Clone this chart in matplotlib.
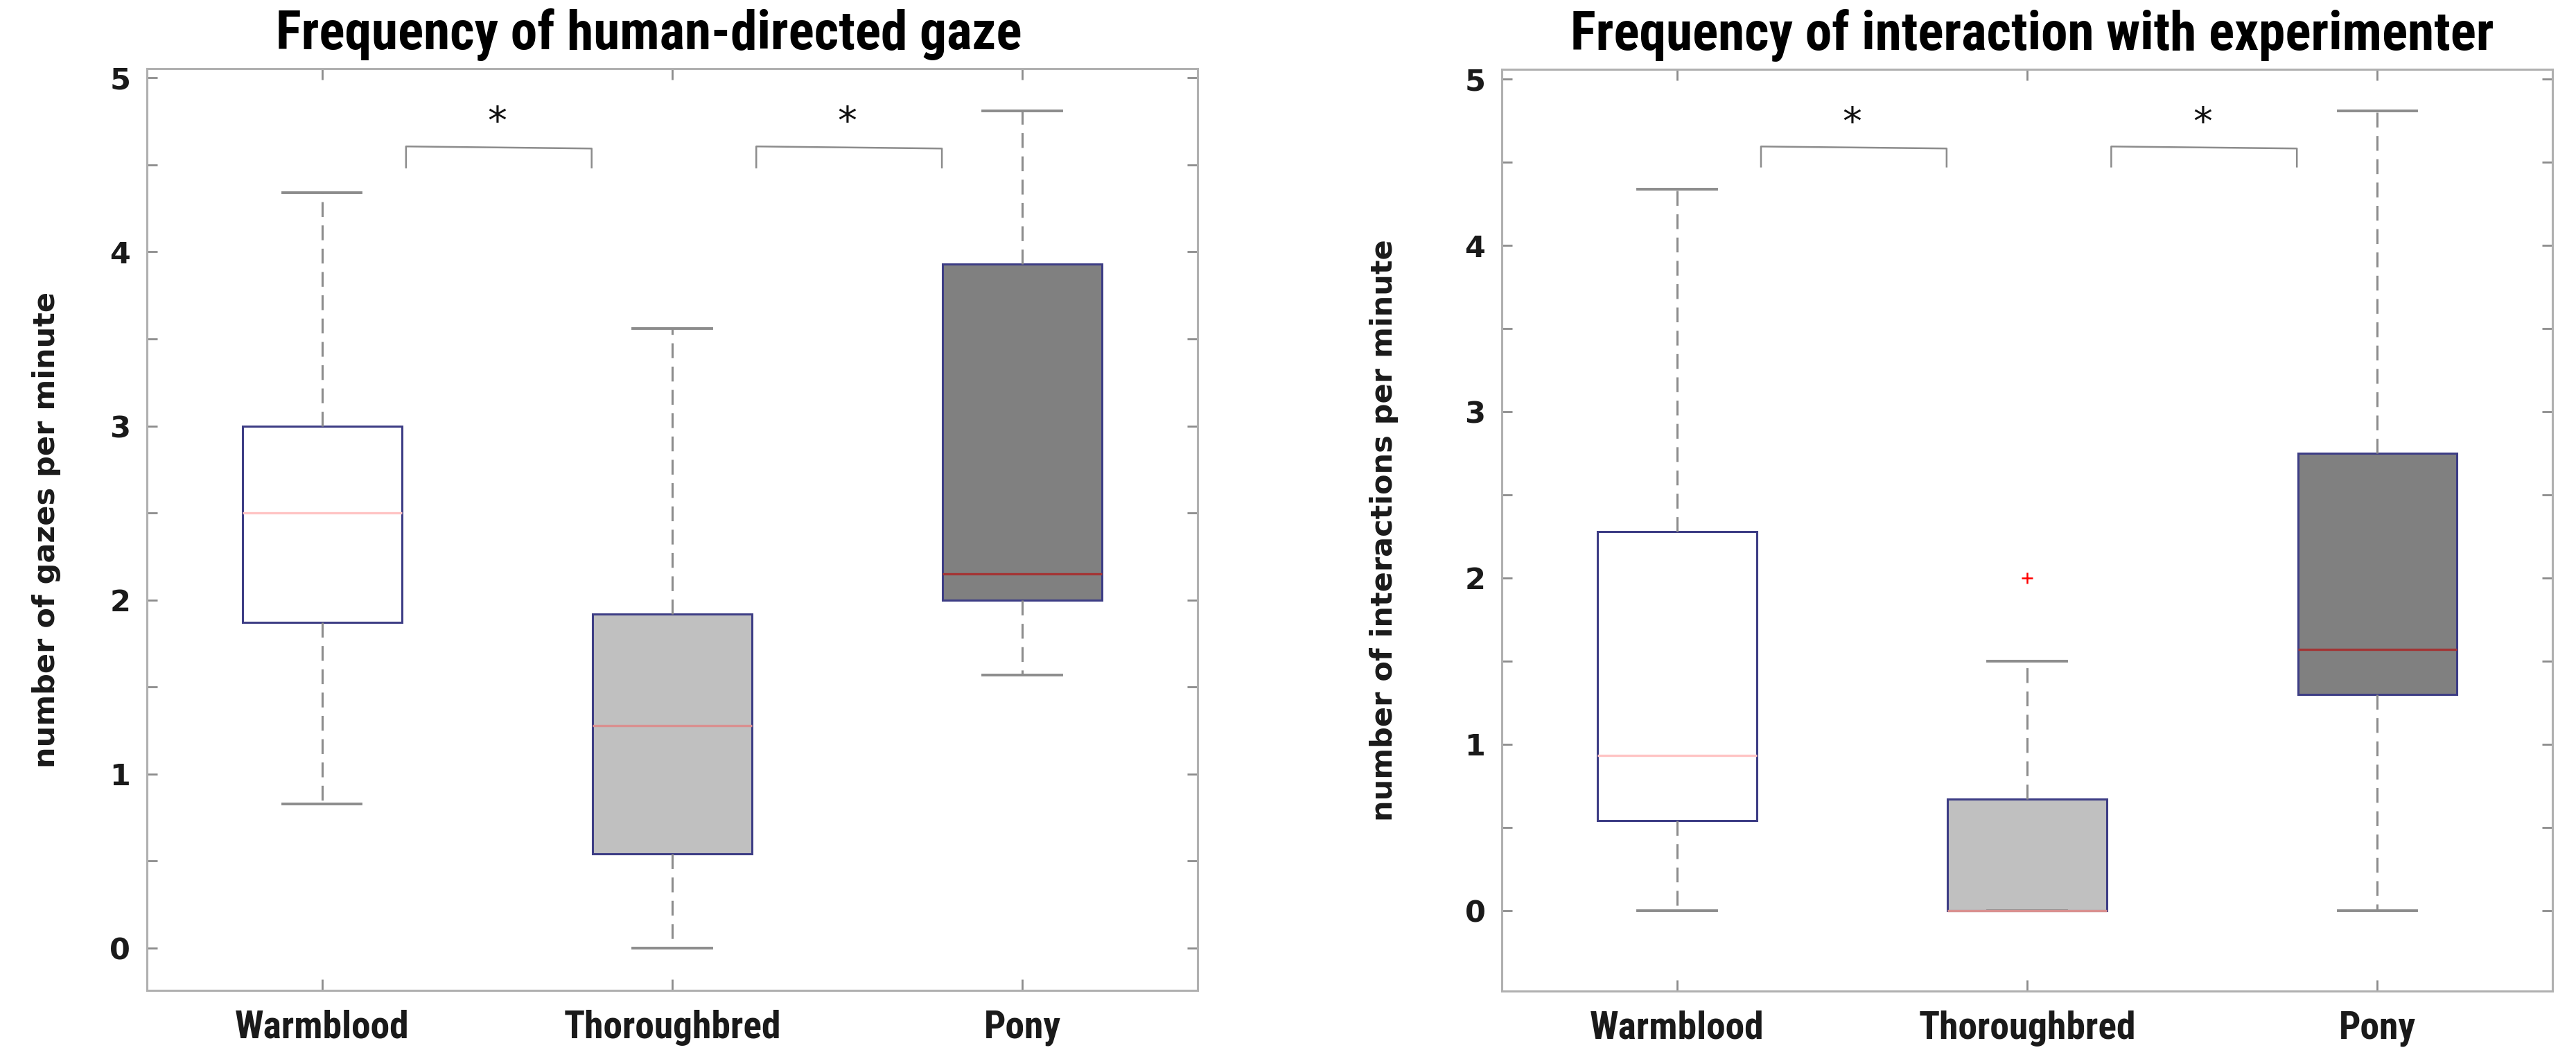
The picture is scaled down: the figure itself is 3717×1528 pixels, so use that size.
import numpy as np
import matplotlib
matplotlib.use('Agg')
import matplotlib.pyplot as plt
from matplotlib import font_manager

breeds = ['Warmblood', 'Thoroughbred', 'Pony']

# gazes per minute (whisker low, q1, median, q3, whisker high, outliers)
gaze_low = [0.83, 0.0, 1.57]
gaze_q1 = [1.87, 0.54, 2.0]
gaze_med = [2.5, 1.28, 2.15]
gaze_q3 = [3.0, 1.92, 3.93]
gaze_high = [4.34, 3.56, 4.81]
gaze_out = [[], [], []]

# interactions per minute
inter_low = [0.0, 0.0, 0.0]
inter_q1 = [0.54, 0.0, 1.30]
inter_med = [0.93, 0.0, 1.57]
inter_q3 = [2.28, 0.67, 2.75]
inter_high = [4.34, 1.5, 4.81]
inter_out = [[], [2.0], []]

# pairs marked with *
sig_pairs = [(1, 2), (2, 3)]

titles = ['Frequency of human-directed gaze', 'Frequency of interaction with experimenter']
ylabels = ['number of gazes per minute', 'number of interactions per minute']

box_fill = ['white', '#c0c0c0', '#808080']
median_col = ['#ffc4c4', '#d99090', '#a33535']
edge_col = '#3d3d85'
whisk_col = '#8c8c8c'
axis_col = '#b0b0b0'

# the original uses a narrow bold face; use one if the system has it,
# otherwise shrink DejaVu Sans Bold so the widths still match
narrow_fp = None
for name in ['Liberation Sans Narrow', 'Roboto Condensed', 'Open Sans Condensed']:
    try:
        font_manager.findfont(font_manager.FontProperties(family=name, weight='bold'),
                              fallback_to_default=False)
        narrow_fp = dict(family=name, fontweight='bold')
        title_size, xlab_size = 27.8, 20
        break
    except ValueError:
        pass
if narrow_fp is None:
    path = font_manager.findfont(font_manager.FontProperties(
        family='DejaVu Sans', weight='bold', stretch='condensed'))
    if 'Condensed' in path:
        narrow_fp = dict(family='DejaVu Sans', fontweight='bold', fontstretch='condensed')
        title_size, xlab_size = 22, 16
    else:
        narrow_fp = dict(family='DejaVu Sans', fontweight='bold')
        title_size, xlab_size = 19.8, 14.5


def draw_panel(ax, low, q1, med, q3, high, out, title, ylabel, ylim, sig_y, title_x):
    stats = []
    for i in range(len(breeds)):
        stats.append(dict(med=med[i], q1=q1[i], q3=q3[i], whislo=low[i],
                          whishi=high[i], fliers=np.array(out[i]), label=breeds[i]))
    bp = ax.bxp(stats, positions=[1, 2, 3], widths=0.455, capwidths=0.225,
                patch_artist=True, showfliers=True,
                boxprops=dict(edgecolor=edge_col, linewidth=1.1),
                whiskerprops=dict(color=whisk_col, linestyle=(0, (7, 4)), linewidth=1.1),
                capprops=dict(color=whisk_col, linewidth=1.4),
                medianprops=dict(linewidth=1.2),
                flierprops=dict(marker='+', markeredgecolor='red', markersize=6,
                                markeredgewidth=0.9))
    for patch, fc in zip(bp['boxes'], box_fill):
        patch.set_facecolor(fc)
    for line, mc in zip(bp['medians'], median_col):
        line.set_color(mc)

    # significance brackets
    for a, b in sig_pairs:
        x0, x1 = a + 0.24, b - 0.23
        ax.plot([x0, x0, x1, x1], [sig_y - 0.115, sig_y + 0.006, sig_y - 0.006, sig_y - 0.115],
                color=whisk_col, lw=0.9)
        ax.text((a + b) / 2, sig_y + 0.14, '*', ha='center', va='center',
                fontsize=20, color='#111111')

    ax.set_xlim(0.5, 3.5)
    ax.set_ylim(*ylim)
    ax.set_xticks([1, 2, 3])
    ax.set_xticklabels(breeds, fontsize=xlab_size, **narrow_fp)
    yt = np.arange(0, 5.01, 0.5)
    ax.set_yticks(yt)
    ax.set_yticklabels([str(int(v)) if v == int(v) else '' for v in yt],
                       fontweight='bold', fontsize=15.5)
    ax.tick_params(axis='y', direction='in', left=True, right=True, length=5.4,
                   width=1.0, color=whisk_col, pad=8.5, labelcolor='#1a1a1a')
    ax.tick_params(axis='x', direction='in', top=True, bottom=True, length=5.8,
                   width=1.0, color=whisk_col, pad=10, labelcolor='#1a1a1a')
    for sp in ax.spines.values():
        sp.set_color(axis_col)
        sp.set_linewidth(1.1)
    ax.set_title(title, fontsize=title_size, pad=10, x=title_x, **narrow_fp)
    ax.set_ylabel(ylabel, fontweight='bold', fontsize=15.5, color='#1a1a1a')


fig = plt.figure(figsize=(18.585, 7.64), dpi=200)
ax1 = fig.add_axes([0.0570, 0.0648, 0.4079, 0.8704])
ax2 = fig.add_axes([0.5830, 0.0641, 0.4079, 0.8704])

draw_panel(ax1, gaze_low, gaze_q1, gaze_med, gaze_q3, gaze_high, gaze_out,
           titles[0], ylabels[0], (-0.243, 5.053), 4.6, 0.478)
draw_panel(ax2, inter_low, inter_q1, inter_med, inter_q3, inter_high, inter_out,
           titles[1], ylabels[1], (-0.486, 5.06), 4.59, 0.505)

ax1.yaxis.set_label_coords(-0.082, 0.5)
ax2.yaxis.set_label_coords(-0.098, 0.5)

fig.savefig('out.png', dpi=200)
